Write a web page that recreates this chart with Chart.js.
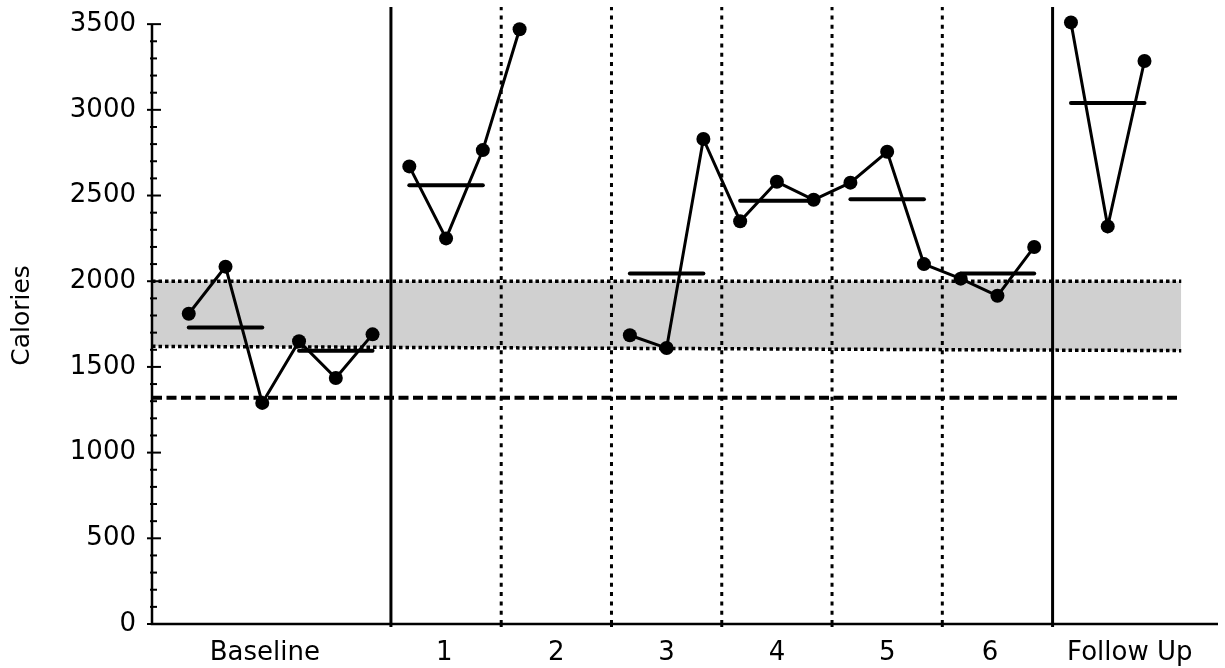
<!DOCTYPE html>
<html>
<head>
<meta charset="utf-8">
<script src="https://cdn.jsdelivr.net/npm/chart.js@4.4.1/dist/chart.umd.min.js"></script>
<style>
  body { margin: 0; background: #fff; }
  #wrap { width: 1225px; height: 668px; }
</style>
</head>
<body>
<div id="wrap"><canvas id="calChart"></canvas></div>
<script>
// session numbers and calories (sessions 11 and 12 have no data)
const sessions = [1, 2, 3, 4, 5, 6, 7, 8, 9, 10, 13, 14, 15, 16, 17, 18, 19, 20, 21, 22, 23, 24, 25, 26, 27];
const calories = [1810, 2085, 1290, 1650, 1435, 1690, 2670, 2250, 2765, 3470, 1685, 1610, 2830, 2350, 2580, 2475, 2575, 2755, 2100, 2015, 1915, 2200, 3510, 2320, 3285];
const breakAfter = [6, 10, 24];

// mean lines
const meanStart = [1, 4, 7, 13, 16, 19, 22, 25];
const meanEnd = [3, 6, 9, 15, 18, 21, 24, 27];
const meanValue = [1730, 1595, 2560, 2045, 2470, 2478, 2045, 3040];

// phases
const phaseNames = ['Baseline', '1', '2', '3', '4', '5', '6', 'Follow Up'];
const phaseLabelAt = [3.07, 7.95, 11, 14, 17, 20, 22.8, 26.6];
const phaseEdges = [6.5, 9.5, 12.5, 15.5, 18.5, 21.5, 24.5];
const majorEdges = [6.5, 24.5];

// reference band and criterion line
const bandX = [0, 28];
const bandTop = [2000, 2000];
const bandBottom = [1620, 1595];
const criterion = [1320, 1320];

const yTicks = [0, 500, 1000, 1500, 2000, 2500, 3000, 3500];
const fontFamily = "'DejaVu Sans', sans-serif";

const datasets = [];

datasets.push({
    data: bandX.map((x, i) => ({ x: x, y: bandTop[i] })),
    borderColor: '#000', borderWidth: 3.5, borderDash: [3.5, 3],
    pointRadius: 0, fill: '+1', backgroundColor: '#d0d0d0', order: 10
});
datasets.push({
    data: bandX.map((x, i) => ({ x: x, y: bandBottom[i] })),
    borderColor: '#000', borderWidth: 3.5, borderDash: [3.5, 3],
    pointRadius: 0, fill: false, order: 9
});
datasets.push({
    data: bandX.map((x, i) => ({ x: x, y: criterion[i] })),
    borderColor: '#000', borderWidth: 4, borderDash: [10, 4.5],
    pointRadius: 0, fill: false, order: 5
});

phaseEdges.forEach(function(e) {
    const solid = majorEdges.includes(e);
    datasets.push({
        data: [{ x: e, y: 0 }, { x: e, y: 3600 }],
        borderColor: '#000', borderWidth: 3, borderDash: solid ? [] : [4, 5.3],
        pointRadius: 0, fill: false, order: 5
    });
});

meanValue.forEach(function(m, i) {
    datasets.push({
        data: [{ x: meanStart[i], y: m }, { x: meanEnd[i], y: m }],
        borderColor: '#000', borderWidth: 4, borderCapStyle: 'round',
        pointRadius: 0, fill: false, order: 2
    });
});

// split the sessions into connected runs
let run = [];
sessions.forEach(function(s, i) {
    run.push({ x: s, y: calories[i] });
    if (breakAfter.includes(s) || i === sessions.length - 1) {
        datasets.push({
            data: run,
            borderColor: '#000', borderWidth: 3,
            pointRadius: 7, pointBackgroundColor: '#000', pointBorderWidth: 0,
            fill: false, order: 1
        });
        run = [];
    }
});

const axisLines = {
    id: 'axisLines',
    afterDatasetsDraw(chart) {
        const { ctx, scales: { x, y } } = chart;
        const x0 = x.getPixelForValue(0);
        const y0 = y.getPixelForValue(0);
        ctx.save();
        ctx.strokeStyle = '#000';
        ctx.lineWidth = 2.5;
        ctx.beginPath();
        ctx.moveTo(x0, y.getPixelForValue(3500));
        ctx.lineTo(x0, y0);
        ctx.lineTo(x.getPixelForValue(x.max), y0);
        ctx.stroke();

        ctx.lineWidth = 2;
        for (let v = 0; v <= 3500; v += 100) {
            const py = y.getPixelForValue(v);
            const major = v % 500 === 0;
            ctx.beginPath();
            ctx.moveTo(x0 - (major ? 5 : 2), py);
            ctx.lineTo(x0 + (major ? 9 : 5), py);
            ctx.stroke();
        }

        ctx.lineWidth = 3;
        phaseEdges.forEach(function(e) {
            const px = x.getPixelForValue(e);
            ctx.beginPath();
            ctx.moveTo(px, y0);
            ctx.lineTo(px, y0 + 3);
            ctx.stroke();
        });
        ctx.restore();
    }
};

const ctx = document.getElementById('calChart').getContext('2d');
new Chart(ctx, {
    type: 'line',
    data: { datasets: datasets },
    options: {
        responsive: true,
        maintainAspectRatio: false,
        animation: false,
        layout: { padding: { top: 7, right: 2, left: 0, bottom: 0 } },
        plugins: {
            legend: { display: false },
            tooltip: { enabled: false }
        },
        scales: {
            x: {
                type: 'linear',
                min: 0,
                max: 29,
                grid: { display: false, drawTicks: false },
                border: { display: false },
                afterBuildTicks: function(scale) {
                    scale.ticks = phaseLabelAt.map(v => ({ value: v }));
                },
                ticks: {
                    autoSkip: false,
                    maxRotation: 0,
                    padding: 14,
                    color: '#000',
                    font: { family: fontFamily, size: 26 },
                    callback: function(value, index) { return phaseNames[index]; }
                },
                afterFit: function(scale) {
                    scale.height = 44;
                    scale.paddingLeft = 0;
                    scale.paddingRight = 0;
                }
            },
            y: {
                min: 0,
                max: 3600,
                grid: { display: false, drawTicks: false },
                border: { display: false },
                afterBuildTicks: function(scale) {
                    scale.ticks = yTicks.map(v => ({ value: v }));
                },
                ticks: {
                    padding: 16,
                    color: '#000',
                    font: { family: fontFamily, size: 26 },
                    callback: function(value) { return String(value); }
                },
                title: {
                    display: true,
                    text: 'Calories',
                    color: '#000',
                    font: { family: fontFamily, size: 25 },
                    padding: { top: 7, bottom: 0 }
                },
                afterFit: function(scale) {
                    scale.width = 152;
                    scale.paddingTop = 0;
                    scale.paddingBottom = 0;
                }
            }
        }
    },
    plugins: [axisLines]
});
</script>
</body>
</html>
